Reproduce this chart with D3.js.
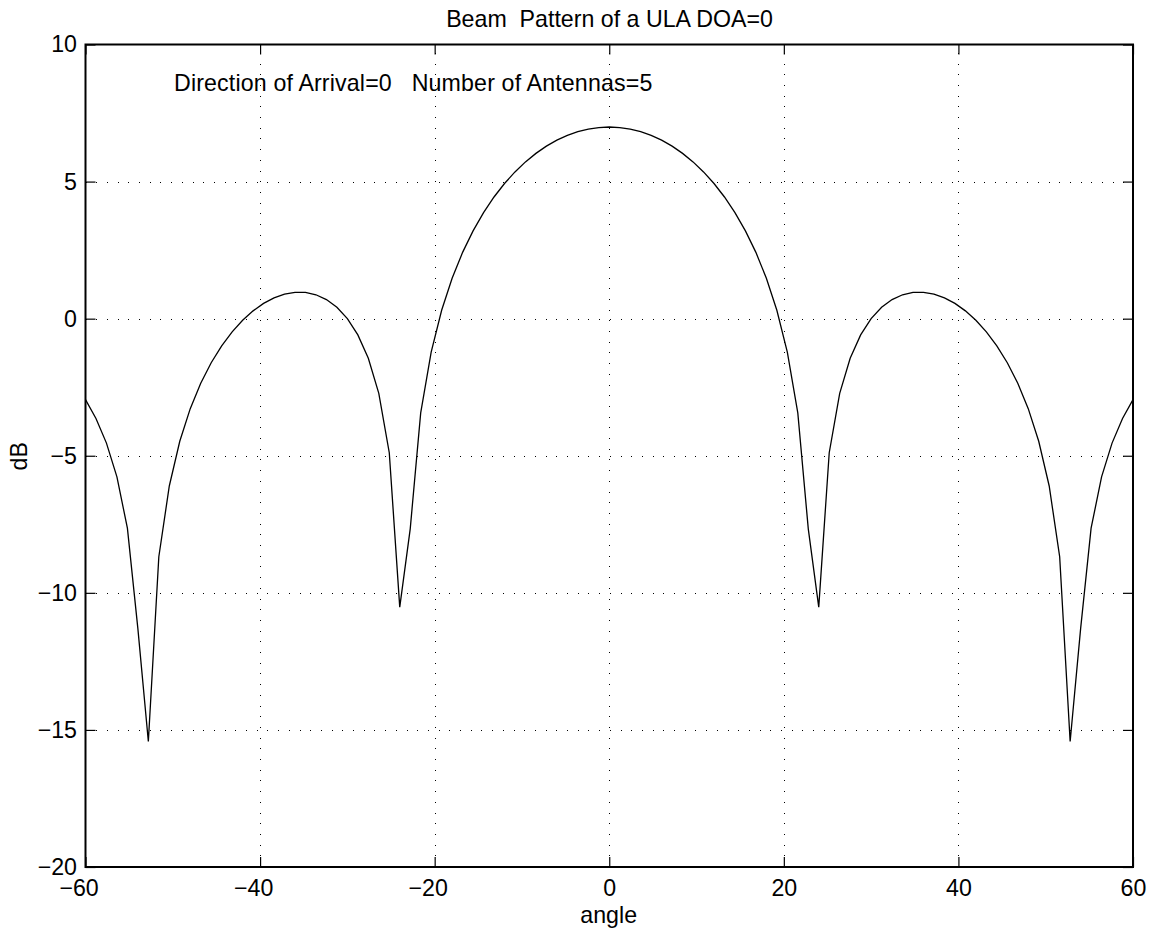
<!DOCTYPE html>
<html>
<head>
<meta charset="utf-8">
<script src="https://cdn.jsdelivr.net/npm/d3@7"></script>
<style>
  body { margin: 0; background: #fff; }
  svg { font-family: "Liberation Sans", Arial, Helvetica, sans-serif; }
</style>
</head>
<body>
<svg id="chart" width="1160" height="937"></svg>
<script>
// sample angles (deg) and beam gain (dB)
const angles = [-60,-58.8,-57.6,-56.4,-55.2,-54,-52.8,-51.6,-50.4,-49.2,-48,-46.8,-45.6,-44.4,-43.2,-42,-40.8,-39.6,-38.4,-37.2,
  -36,-34.8,-33.6,-32.4,-31.2,-30,-28.8,-27.6,-26.4,-25.2,-24,-22.8,-21.6,-20.4,-19.2,-18,-16.8,-15.6,-14.4,-13.2,
  -12,-10.8,-9.6,-8.4,-7.2,-6,-4.8,-3.6,-2.4,-1.2,0,1.2,2.4,3.6,4.8,6,7.2,8.4,9.6,10.8,
  12,13.2,14.4,15.6,16.8,18,19.2,20.4,21.6,22.8,24,25.2,26.4,27.6,28.8,30,31.2,32.4,33.6,34.8,
  36,37.2,38.4,39.6,40.8,42,43.2,44.4,45.6,46.8,48,49.2,50.4,51.6,52.8,54,55.2,56.4,57.6,58.8,60];

const gainDb = [-2.952,-3.642,-4.539,-5.771,-7.643,-11.304,-15.421,-8.682,-6.103,-4.472,-3.283,-2.356,-1.607,-0.991,-0.481,-0.059,0.284,0.556,0.759,0.895,
  0.962,0.957,0.872,0.697,0.415,0.000,-0.593,-1.445,-2.724,-4.890,-10.521,-7.665,-3.436,-1.221,0.307,1.475,2.418,3.203,3.868,4.438,
  4.929,5.353,5.718,6.029,6.292,6.510,6.685,6.819,6.914,6.971,6.990,6.971,6.914,6.819,6.685,6.510,6.292,6.029,5.718,5.353,
  4.929,4.438,3.868,3.203,2.418,1.475,0.307,-1.221,-3.436,-7.665,-10.521,-4.890,-2.724,-1.445,-0.593,0.000,0.415,0.697,0.872,0.957,
  0.962,0.895,0.759,0.556,0.284,-0.059,-0.481,-0.991,-1.607,-2.356,-3.283,-4.472,-6.103,-8.682,-15.421,-11.304,-7.643,-5.771,-4.539,-3.642,-2.952];

const xTicks = [-60, -40, -20, 0, 20, 40, 60];
const yTicks = [-20, -15, -10, -5, 0, 5, 10];

const titleText = "Beam  Pattern of a ULA DOA=0";
const noteText = "Direction of Arrival=0   Number of Antennas=5";
const xLabel = "angle";
const yLabel = "dB";

const m = {left: 85.5, right: 1133, top: 44.5, bottom: 867};
const fontSize = 23.2;

const svg = d3.select("#chart");

const x = d3.scaleLinear().domain([-60, 60]).range([m.left, m.right]);
const y = d3.scaleLinear().domain([-20, 10]).range([m.bottom, m.top]);

// dotted grid
const grid = svg.append("g")
    .attr("stroke", "#000")
    .attr("stroke-width", 1)
    .attr("stroke-dasharray", "1,9.7")
    .attr("shape-rendering", "crispEdges");

grid.selectAll("line.gx")
  .data(xTicks.slice(1, -1))
  .join("line")
    .attr("class", "gx")
    .attr("x1", d => Math.round(x(d)) + 0.5)
    .attr("x2", d => Math.round(x(d)) + 0.5)
    .attr("y1", m.bottom)
    .attr("y2", m.top);

grid.selectAll("line.gy")
  .data(yTicks.slice(1, -1))
  .join("line")
    .attr("class", "gy")
    .attr("y1", d => Math.round(y(d)) + 0.5)
    .attr("y2", d => Math.round(y(d)) + 0.5)
    .attr("x1", m.left)
    .attr("x2", m.right);

// axes with inward ticks
function styleAxis(g) {
  g.select(".domain").remove();
  g.selectAll(".tick line").attr("stroke", "#000").attr("stroke-width", 1.2);
  g.selectAll(".tick text")
    .attr("fill", "#000")
    .style("font-size", fontSize + "px");
}

svg.append("g")
    .attr("transform", `translate(0,${m.bottom})`)
    .call(d3.axisBottom(x).tickValues(xTicks).tickSize(-10).tickPadding(12.5))
    .call(styleAxis)
    .call(g => g.selectAll(".tick text").filter(d => d < 0).attr("dx", "-0.3em")); // minus hangs left, digits centred

svg.append("g")
    .attr("transform", `translate(0,${m.top})`)
    .call(d3.axisTop(x).tickValues(xTicks).tickSize(-10).tickFormat(""))
    .call(styleAxis);

svg.append("g")
    .attr("transform", `translate(${m.left},0)`)
    .call(d3.axisLeft(y).tickValues(yTicks).tickSize(-10).tickPadding(8.5))
    .call(styleAxis);

svg.append("g")
    .attr("transform", `translate(${m.right},0)`)
    .call(d3.axisRight(y).tickValues(yTicks).tickSize(-10).tickFormat(""))
    .call(styleAxis);

// frame
svg.append("rect")
    .attr("x", m.left)
    .attr("y", m.top)
    .attr("width", m.right - m.left)
    .attr("height", m.bottom - m.top)
    .attr("fill", "none")
    .attr("stroke", "#000")
    .attr("stroke-width", 2);

// the curve
const line = d3.line()
    .x((d, i) => x(angles[i]))
    .y(d => y(d));

svg.append("path")
    .datum(gainDb)
    .attr("fill", "none")
    .attr("stroke", "#000")
    .attr("stroke-width", 1.3)
    .attr("d", line);

// texts
svg.append("text")
    .attr("x", 609.5)
    .attr("y", 26.7)
    .attr("text-anchor", "middle")
    .style("font-size", fontSize + "px")
    .style("white-space", "pre")
    .text(titleText);

svg.append("text")
    .attr("x", 174)
    .attr("y", 91)
    .style("font-size", fontSize + "px")
    .style("letter-spacing", "0.15px")
    .style("white-space", "pre")
    .text(noteText);

svg.append("text")
    .attr("x", 608.7)
    .attr("y", 923)
    .attr("text-anchor", "middle")
    .style("font-size", fontSize + "px")
    .text(xLabel);

svg.append("text")
    .attr("transform", "translate(27,456.3) rotate(-90)")
    .attr("text-anchor", "middle")
    .style("font-size", fontSize + "px")
    .text(yLabel);
</script>
</body>
</html>
